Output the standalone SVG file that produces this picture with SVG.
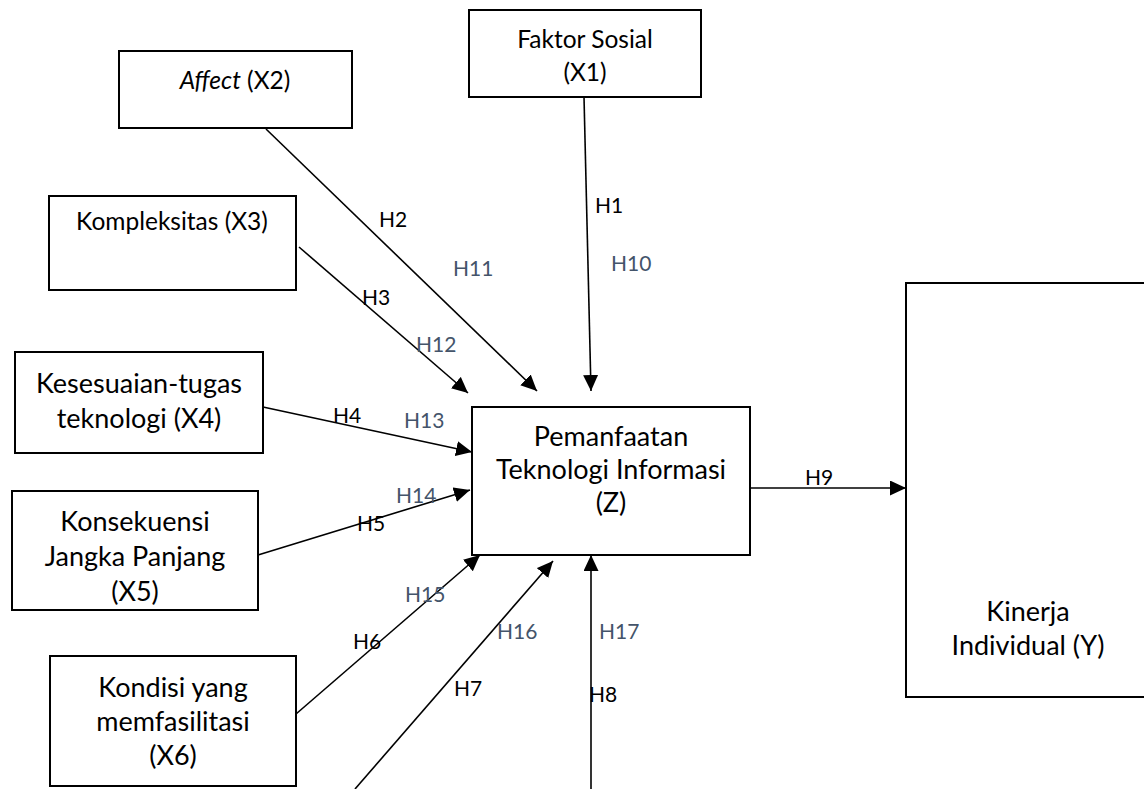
<svg xmlns="http://www.w3.org/2000/svg" width="1144" height="789" viewBox="0 0 1144 789">
  <style>
    .box { fill: #ffffff; stroke: #000000; stroke-width: 2; }
    .lbl { font-family: Lato, "Liberation Sans", sans-serif; font-size: 27px; fill: #000000; text-anchor: middle; }
    .sm { font-size: 24.5px; }
    .h { font-family: Lato, "Liberation Sans", sans-serif; font-size: 21px; fill: #000000; }
    .h2 { font-family: Lato, "Liberation Sans", sans-serif; font-size: 21px; fill: #44546A; }
    .edge { stroke: #000000; stroke-width: 1.6; fill: none; marker-end: url(#arrow); }
  </style>
  <defs>
    <marker id="arrow" markerUnits="userSpaceOnUse" markerWidth="17" markerHeight="16" refX="16" refY="7.5" orient="auto">
      <path d="M0,0 L16,7.5 L0,15 z" fill="#000000"/>
    </marker>
  </defs>
  <rect width="1144" height="789" fill="#ffffff"/>

  <!-- connectors -->
  <g id="connectors">
    <line class="edge" x1="584" y1="97" x2="591" y2="391"/>
    <line class="edge" x1="266" y1="129" x2="537" y2="391"/>
    <line class="edge" x1="299" y1="247" x2="468" y2="393"/>
    <line class="edge" x1="263" y1="407" x2="472" y2="452"/>
    <line class="edge" x1="258" y1="555" x2="470" y2="490"/>
    <line class="edge" x1="296" y1="714" x2="480" y2="555"/>
    <line class="edge" x1="355" y1="789" x2="553" y2="561"/>
    <line class="edge" x1="591" y1="789" x2="591" y2="555"/>
    <line class="edge" x1="750" y1="488" x2="906" y2="488"/>
  </g>

  <!-- path labels -->
  <g id="path-labels">
    <text class="h" x="595" y="213">H1</text>
    <text class="h2" x="611" y="271">H10</text>
    <text class="h" x="379" y="227">H2</text>
    <text class="h2" x="453" y="276">H11</text>
    <text class="h" x="362" y="305">H3</text>
    <text class="h2" x="416" y="352">H12</text>
    <text class="h" x="333" y="423">H4</text>
    <text class="h2" x="404" y="428">H13</text>
    <text class="h2" x="396" y="503">H14</text>
    <text class="h" x="357" y="531">H5</text>
    <text class="h2" x="405" y="602">H15</text>
    <text class="h" x="353" y="649">H6</text>
    <text class="h2" x="497" y="639">H16</text>
    <text class="h" x="454" y="696">H7</text>
    <text class="h2" x="599" y="639">H17</text>
    <text class="h" x="589" y="702">H8</text>
    <text class="h" x="805" y="485">H9</text>
  </g>

  <g id="node-x1">
    <rect class="box" x="469" y="10" width="232" height="87"/>
    <text class="lbl sm" x="585" y="48">Faktor Sosial</text>
    <text class="lbl sm" x="585" y="81">(X1)</text>
  </g>

  <g id="node-x2">
    <rect class="box" x="119" y="51" width="233" height="77"/>
    <text class="lbl sm" x="235" y="89"><tspan font-style="italic">Affect</tspan> (X2)</text>
  </g>

  <g id="node-x3">
    <rect class="box" x="49" y="196" width="247" height="94"/>
    <text class="lbl sm" x="172" y="230">Kompleksitas (X3)</text>
  </g>

  <g id="node-x4">
    <rect class="box" x="15" y="352" width="248" height="101"/>
    <text class="lbl" x="139" y="393">Kesesuaian-tugas</text>
    <text class="lbl" x="139" y="428">teknologi (X4)</text>
  </g>

  <g id="node-x5">
    <rect class="box" x="12" y="491" width="246" height="119"/>
    <text class="lbl" x="135" y="531">Konsekuensi</text>
    <text class="lbl" x="135" y="566">Jangka Panjang</text>
    <text class="lbl" x="135" y="601">(X5)</text>
  </g>

  <g id="node-x6">
    <rect class="box" x="50" y="656" width="246" height="130"/>
    <text class="lbl" x="173" y="697">Kondisi yang</text>
    <text class="lbl" x="173" y="731">memfasilitasi</text>
    <text class="lbl" x="173" y="765">(X6)</text>
  </g>

  <g id="node-z">
    <rect class="box" x="472" y="407" width="278" height="148"/>
    <text class="lbl" x="611" y="446">Pemanfaatan</text>
    <text class="lbl" x="611" y="479">Teknologi Informasi</text>
    <text class="lbl" x="611" y="512">(Z)</text>
  </g>

  <g id="node-y">
    <rect class="box" x="906" y="283" width="250" height="414"/>
    <text class="lbl" x="1028" y="621">Kinerja</text>
    <text class="lbl" x="1028" y="655">Individual (Y)</text>
  </g>
</svg>
